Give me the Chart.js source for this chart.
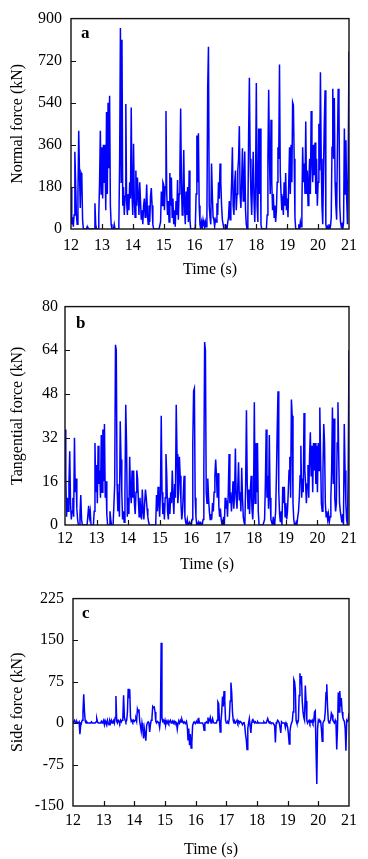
<!DOCTYPE html>
<html><head><meta charset="utf-8">
<script src="https://cdn.jsdelivr.net/npm/chart.js@4.4.1/dist/chart.umd.min.js"></script>
<style>
html,body{margin:0;padding:0;background:#fff;}
body{width:368px;height:859px;position:relative;overflow:hidden;}
canvas{position:absolute;left:0;}
</style></head><body>
<canvas id="ca" width="368" height="290" style="top:0"></canvas>
<canvas id="cb" width="368" height="290" style="top:290px"></canvas>
<canvas id="cc" width="368" height="279" style="top:580px"></canvas>
<script>
// sampling of all series: start time and step (s)
const T_START = 12, T_STEP = 0.025;

// Normal force (kN), one row per second (40 samples each), last value at 21 s
const normalForce = [].concat(
 [180,20,50,10,60,330,200,60,20,150, 420,240,90,240,230,40,0,0,0,0, 0,10,0,0,0,0,0,0,0,0, 0,110,20,0,0,0,60,200,420,150],
 [350,130,360,200,360,80,500,150,540,260, 570,100,20,0,0,0,20,0,0,0, 0,0,20,300,860,200,810,100,180,60, 140,535,120,60,150,80,200,130,520,150],
 [60,365,120,50,250,100,220,140,60,200, 120,40,80,20,100,130,50,90,190,60, 20,100,30,140,175,100,20,0,0,0, 0,0,0,0,0,0,30,160,100,200],
 [190,80,180,505,150,60,120,30,240,100, 220,50,130,20,80,10,120,60,210,40, 150,250,515,200,60,150,338,100,20,160, 60,180,30,250,40,0,0,0,0,0],
 [0,10,150,400,200,410,100,20,0,30, 10,40,20,5,30,10,50,600,780,100, 50,20,280,150,50,40,10,40,30,110, 60,200,130,280,200,100,40,20,0,0],
 [0,10,0,30,50,120,40,100,200,350, 100,60,200,250,80,150,250,300,440,150, 90,200,345,120,200,331,80,20,0,40, 400,647,300,150,60,200,330,120,30,200],
 [625,100,30,430,150,430,20,0,0,0, 0,0,0,0,60,300,596,300,150,467, 200,80,150,50,100,30,80,200,350,300, 704,240,150,80,140,60,200,100,240,80],
 [130,50,200,350,150,360,200,542,530,300, 50,0,0,0,0,20,0,30,10,100, 350,200,280,150,460,150,250,100,200,300, 150,505,300,200,360,230,370,150,300,100],
 [200,450,250,670,300,100,20,250,450,593, 20,0,10,0,20,0,10,50,350,600, 300,560,200,100,40,350,600,530,100,30, 10,20,0,30,430,150,380,130,20,300],
 [760]
);

// Tangential force (kN)
const tangentialForce = [].concat(
 [35,18,3,10,5,15,27,8,2,5, 10,3,32,12,17,6,2,0,0,4, 11,2,0,0,0,0,0,0,0,0, 7,3,5,0,0,0,0,5,30,12],
 [22,8,29,15,20,10,33,12,35,16, 37,10,16,4,0,0,0,5,2,0, 0,0,0,15,66,64,15,5,12,3, 38,24,12,2,5,1,12,44,30,3],
 [10,4,25,12,8,20,10,20,8,4, 12,20,17,9,3,10,5,2,13,5, 2,8,13,10,6,3,1,0,0,0, 0,0,0,0,0,0,11,5,14,8],
 [3,12,40,12,4,8,2,10,26,18, 5,2,10,4,12,8,20,10,4,15, 10,44,26,8,12,25,18,8,2,5, 12,18,3,1,0,2,0,0,1,0],
 [0,2,30,49,50,10,3,0,0,1, 0,1,1,0,0,2,20,67,64,12, 8,17,10,5,2,4,2,8,5,12, 18,24,18,10,19,7,3,6,2,0],
 [0,3,0,10,6,9,3,12,26,8, 12,5,10,16,6,12,28,10,6,14, 23,9,12,5,21,10,3,1,0,15, 42,15,6,13,4,13,18,6,2,10],
 [45,8,30,12,30,5,0,0,0,0, 0,0,0,2,15,35,10,18,6,33, 10,2,1,0,3,0,1,5,18,35, 49,12,4,1,5,0,14,8,14,3],
 [8,2,5,12,20,25,10,46,40,8, 2,0,0,1,0,3,5,10,18,29, 10,17,12,41,20,15,8,15,22,10, 25,34,18,29,12,30,20,30,15,29],
 [12,30,20,43,25,8,5,20,37,30, 8,3,5,2,4,1,3,10,20,43, 15,39,10,5,8,30,45,25,8,5, 3,1,4,0,37,20,8,2,0,20],
 [64]
);

// Side force (kN)
const sideForce = [].concat(
 [0,3,5,2,0,3,0,0,2,-20, -5,0,5,20,52,20,3,0,2,0, 0,0,0,0,2,0,0,0,0,0, 2,8,2,0,0,0,0,3,0,2],
 [5,-3,4,0,-4,5,0,-3,4,0, 5,0,3,5,0,10,49,3,0,5, 3,0,5,2,5,8,50,10,5,2, 5,20,62,45,61,10,3,5,2,5],
 [3,5,8,3,25,20,25,3,-5,-15, 0,-10,-28,-10,-20,-32,-5,0,2,0, -16,-3,5,10,30,28,29,20,3,0, 3,2,0,-8,5,145,10,3,5,0],
 [5,-3,3,0,4,0,3,5,0,2, 4,0,3,0,2,0,-11,0,3,0, 5,2,7,3,0,2,0,0,3,-5, -30,-10,-40,-20,-45,-35,-5,0,2,0],
 [0,3,0,7,8,0,0,0,0,0, -3,-13,0,0,2,0,10,2,5,10, 0,3,8,2,0,0,0,0,5,38, 35,5,-16,3,20,48,30,58,40,5],
 [0,0,2,0,10,40,73,55,20,5, 0,3,0,2,5,0,3,0,3,2, 0,-3,0,2,-5,-20,-30,-48,-10,0, 8,-5,-18,0,5,2,3,0,2,0],
 [0,2,0,0,0,0,0,0,0,2, 0,0,0,0,8,3,0,2,0,0, 0,0,0,-5,-35,0,2,5,3,0, -8,-18,2,0,0,0,0,-8,0,-3],
 [-8,-20,-38,-15,-5,0,3,20,79,75, 60,5,0,0,5,50,90,70,85,40, 20,10,5,68,40,5,0,3,5,0, 4,2,5,0,3,20,22,-50,-110,-10],
 [5,2,5,3,-10,-33,0,3,5,20, 55,70,30,5,0,3,5,18,15,5, 2,0,5,0,-48,-10,55,20,58,30, 45,20,10,5,3,-10,-50,5,3,5],
 [18]
);

// axis ranges / tick steps
const timeAxis = {min: 12, max: 21, step: 1};
const normalAxis = {min: 0, max: 900, step: 180};
const tangentialAxis = {min: 0, max: 80, step: 16};
const sideAxis = {min: -150, max: 225, step: 75};

const SERIF = '"Liberation Serif", "Times New Roman", serif';

const framePlugin = {
  id: 'frame',
  afterDatasetsDraw(chart, args, o) {
    const {ctx, chartArea: a, scales: {x, y}} = chart;
    ctx.save();
    ctx.strokeStyle = '#111';
    ctx.lineWidth = 1.2;
    ctx.beginPath();
    x.ticks.forEach(t => {
      if (t.value > x.min && t.value < x.max) {
        const px = Math.round(x.getPixelForValue(t.value)) + 0.5;
        ctx.moveTo(px, a.bottom); ctx.lineTo(px, a.bottom - 5);
      }
    });
    y.ticks.forEach(t => {
      if (t.value > y.min && t.value < y.max) {
        const py = Math.round(y.getPixelForValue(t.value)) + 0.5;
        ctx.moveTo(a.left, py); ctx.lineTo(a.left + 5, py);
      }
    });
    ctx.stroke();
    ctx.lineWidth = 1.4;
    ctx.strokeRect(a.left, a.top, a.right - a.left, a.bottom - a.top);
    ctx.fillStyle = '#000';
    ctx.font = 'bold 17px ' + SERIF;
    ctx.textBaseline = 'alphabetic';
    ctx.fillText(o.letter, a.left + o.lx, a.top + o.ly);
    ctx.restore();
  }
};

function makeChart(id, values, yAxis, yTitle, cfg) {
  const pts = values.map((v, i) => ({x: T_START + i * T_STEP, y: v}));
  return new Chart(document.getElementById(id), {
    type: 'line',
    data: {datasets: [{data: pts, borderColor: '#0000ff', borderWidth: 1.5, pointRadius: 0, tension: 0, fill: false}]},
    options: {
      responsive: false, animation: false, devicePixelRatio: 1,
      layout: {padding: {top: cfg.top, right: 19, left: 0, bottom: 0}},
      plugins: {legend: {display: false}, tooltip: {enabled: false}, frame: {letter: cfg.letter, lx: cfg.lx, ly: cfg.ly}},
      scales: {
        x: {
          type: 'linear', min: timeAxis.min, max: timeAxis.max,
          grid: {display: false, drawTicks: false}, border: {display: false},
          ticks: {stepSize: timeAxis.step, color: '#000', font: {family: SERIF, size: 16}, padding: cfg.xpad, maxRotation: 0, autoSkip: false},
          title: {display: true, text: 'Time (s)', color: '#000', font: {family: SERIF, size: 16}, padding: {top: 0, bottom: cfg.xtpad}},
          afterFit: s => { s.height = cfg.xh; }
        },
        y: {
          min: yAxis.min, max: yAxis.max,
          grid: {display: false, drawTicks: false}, border: {display: false},
          ticks: {stepSize: yAxis.step, color: '#000', font: {family: SERIF, size: 16}, padding: cfg.ypad, callback: v => String(v)},
          title: {display: true, text: yTitle, color: '#000', font: {family: SERIF, size: 16}, padding: {top: 8.4, bottom: 0}},
          afterFit: s => { s.width = cfg.yw; }
        }
      }
    },
    plugins: [framePlugin]
  });
}

makeChart('ca', normalForce, normalAxis, 'Normal force (kN)', {letter: 'a', lx: 10, ly: 19, top: 14, xh: 61, yw: 71, xpad: 7.4, ypad: 9, xtpad: 10.4});
makeChart('cb', tangentialForce, tangentialAxis, 'Tangential force (kN)', {letter: 'b', lx: 11, ly: 21, top: 14, xh: 55, yw: 65, xpad: 4.4, ypad: 7, xtpad: 5.9});
makeChart('cc', sideForce, sideAxis, 'Side force (kN)', {letter: 'c', lx: 9, ly: 19, top: 18, xh: 53, yw: 73, xpad: 4.8, ypad: 9, xtpad: 0});
</script>
</body></html>
